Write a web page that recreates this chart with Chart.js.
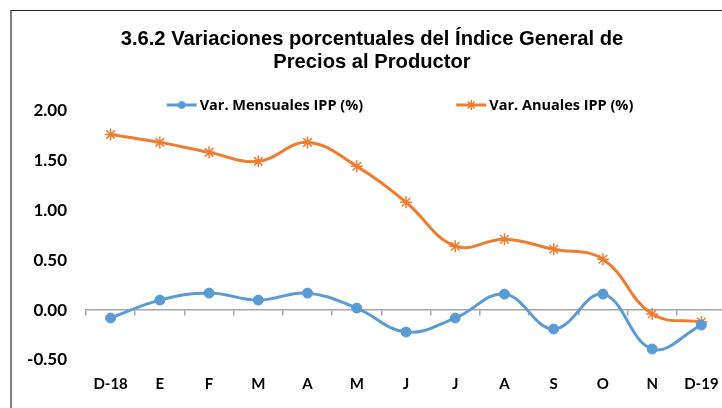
<!DOCTYPE html>
<html>
<head>
<meta charset="utf-8">
<script src="https://cdn.jsdelivr.net/npm/chart.js@4.4.1/dist/chart.umd.min.js"></script>
<style>
  html, body { margin: 0; padding: 0; background: #fff; overflow: hidden; }
  #wrap { position: relative; width: 722px; height: 408px; overflow: hidden; }
  #frame { position: absolute; left: 10px; top: 10px; width: 800px; height: 500px;
           border-left: 2px solid #7f7f7f; border-top: 1px solid #222; }
  #chart { position: absolute; left: 0; top: 0; }
</style>
</head>
<body>
<div id="wrap">
  <div id="frame"></div>
  <canvas id="chart" width="740" height="408"></canvas>
</div>
<script>
// =========================
// DATA
// =========================
const months = ["D-18", "E", "F", "M", "A", "M", "J", "J", "A", "S", "O", "N", "D-19"];
const mensualIPP = [-0.08, 0.10, 0.17, 0.10, 0.17, 0.02, -0.22, -0.08, 0.16, -0.19, 0.16, -0.39, -0.15];
const anualIPP = [1.76, 1.68, 1.58, 1.49, 1.68, 1.44, 1.08, 0.64, 0.71, 0.61, 0.51, -0.04, -0.12];
const titleLines = ["3.6.2 Variaciones porcentuales del Índice General de", "Precios al Productor"];

const BLUE = "#5b9bd5";
const ORANGE = "#ed7d31";
const AXIS_GREY = "#a6a6a6";

// legend spread wide like the Excel original (built-in legend can't space items apart)
const wideLegend = {
    id: "wideLegend",
    afterDraw(chart) {
        const ctx = chart.ctx;
        const sets = chart.data.datasets;
        const y = 105;
        const lineLen = 30;
        ctx.save();
        ctx.font = "bold 14.5px 'Open Sans'";
        ctx.textBaseline = "middle";
        const widths = sets.map(ds => lineLen + 3 + ctx.measureText(ds.label).width);
        const gap = 93;
        let x = 400 - (widths[0] + widths[1] + gap) / 2;
        sets.forEach((ds, i) => {
            ctx.strokeStyle = ds.borderColor;
            ctx.lineWidth = 3;
            ctx.beginPath();
            ctx.moveTo(x, y);
            ctx.lineTo(x + lineLen, y);
            ctx.stroke();
            ctx.fillStyle = ds.pointBackgroundColor;
            ctx.strokeStyle = ds.pointBorderColor;
            ctx.lineWidth = ds.pointBorderWidth;
            Chart.helpers.drawPoint(ctx, {
                pointStyle: ds.pointStyle, radius: ds.pointStyle === "circle" ? 3.5 : 5,
                borderWidth: ds.pointBorderWidth, rotation: 0
            }, x + lineLen / 2, y);
            ctx.fillStyle = "#000";
            ctx.fillText(ds.label, x + lineLen + 3, y + 1);
            x += widths[i] + gap;
        });
        ctx.restore();
    }
};

const ctx = document.getElementById("chart");

const chart = new Chart(ctx, {
    type: "line",
    data: {
        labels: months,
        datasets: [{
            label: "Var. Mensuales IPP (%)",
            data: mensualIPP,
            borderColor: BLUE,
            backgroundColor: BLUE,
            borderWidth: 3,
            tension: 0.4,
            pointStyle: "circle",
            pointRadius: 5,
            pointBackgroundColor: BLUE,
            pointBorderColor: BLUE,
            pointBorderWidth: 1
        }, {
            label: "Var. Anuales IPP (%)",
            data: anualIPP,
            borderColor: ORANGE,
            backgroundColor: ORANGE,
            borderWidth: 3,
            tension: 0.4,
            pointStyle: "star",
            pointRadius: 6,
            pointBackgroundColor: ORANGE,
            pointBorderColor: ORANGE,
            pointBorderWidth: 1.5
        }]
    },
    options: {
        responsive: false,
        animation: false,
        layout: { padding: { left: 18, right: 14, top: 0, bottom: 0 } },
        plugins: {
            legend: { display: false },
            tooltip: { enabled: false },
            title: {
                display: true,
                text: titleLines,
                color: "#000",
                font: { family: "'Liberation Sans', Arial, sans-serif", size: 20.2, weight: "bold", lineHeight: 1.125 },
                padding: { top: 28, bottom: 37 }
            }
        },
        scales: {
            x: {
                position: "bottom",
                offset: true,
                grid: { display: false, drawTicks: false },
                border: { display: false },
                ticks: {
                    color: "#000",
                    padding: 15,
                    maxRotation: 0,
                    font: { family: "Lato", size: 15, weight: "bold" }
                }
            },
            xZero: {
                type: "category",
                position: { y: 0 },
                offset: true,
                grid: { drawOnChartArea: false, drawTicks: true, tickLength: 5, offset: true, color: AXIS_GREY, lineWidth: 1.5 },
                border: { color: AXIS_GREY, width: 1.5 },
                ticks: { display: false }
            },
            y: {
                min: -0.5,
                max: 2.0,
                grid: { display: false, drawTicks: false },
                border: { display: false },
                ticks: {
                    stepSize: 0.5,
                    color: "#000",
                    padding: 19,
                    font: { family: "Lato", size: 17, weight: "bold" },
                    callback: v => Number(v).toFixed(2)
                },
                afterFit: s => { s.width = 68; }
            }
        }
    },
    plugins: [wideLegend]
});
</script>
</body>
</html>
